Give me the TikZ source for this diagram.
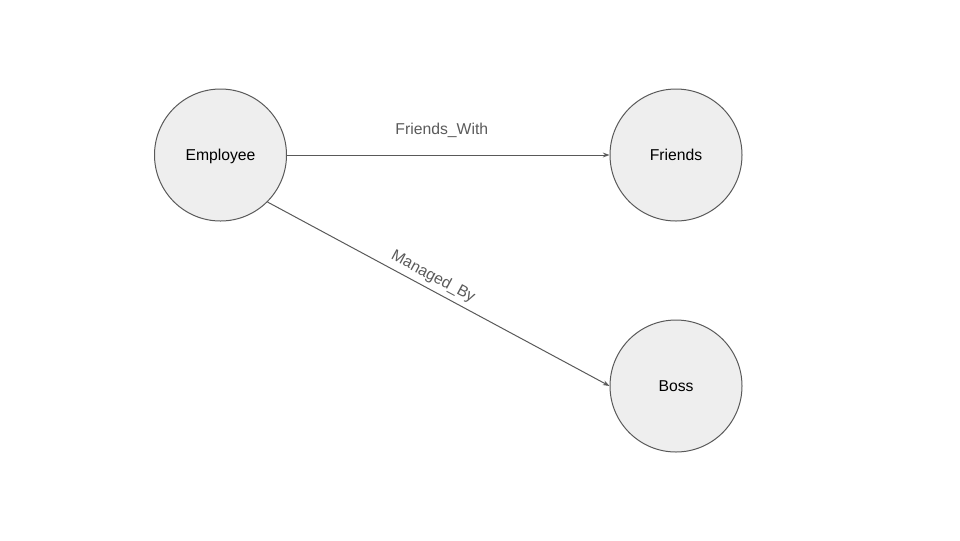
\documentclass[tikz,border=0pt]{standalone}
\usepackage{fontspec}
\setmainfont{Liberation Sans}
\usetikzlibrary{arrows.meta}
\definecolor{nodefill}{HTML}{EEEEEE}
\definecolor{linegray}{HTML}{595959}
\definecolor{labelgray}{HTML}{5A5A5A}
\tikzset{
  entity/.style={circle, draw=linegray, fill=nodefill, line width=0.75pt, minimum size=99pt, inner sep=0pt, text height=8.5pt, text depth=0.5pt, font=\fontsize{11.8}{14}\selectfont, text=black},
  rel/.style={draw=linegray, line width=0.75pt, -{Stealth[length=5pt,width=3.6pt]}},
  rellabel/.style={font=\fontsize{11.8}{14}\selectfont, text=labelgray}
}
\begin{document}
\begin{tikzpicture}[x=0.75pt,y=-0.75pt]
\useasboundingbox (0,0) rectangle (960,540);
\node[entity] (emp) at (220.5,155) {Employee};
\node[entity] (fri) at (676,155) {Friends};
\node[entity] (boss) at (676,386) {Boss};
\draw[rel] (emp.east) -- node[rellabel, pos=0.48, above=9pt] {Friends\_With} (fri.west);
\draw[rel] (emp.-45) -- node[rellabel, pos=0.467, sloped, above=0pt] {Managed\_By} (boss.west);
\end{tikzpicture}
\end{document}
